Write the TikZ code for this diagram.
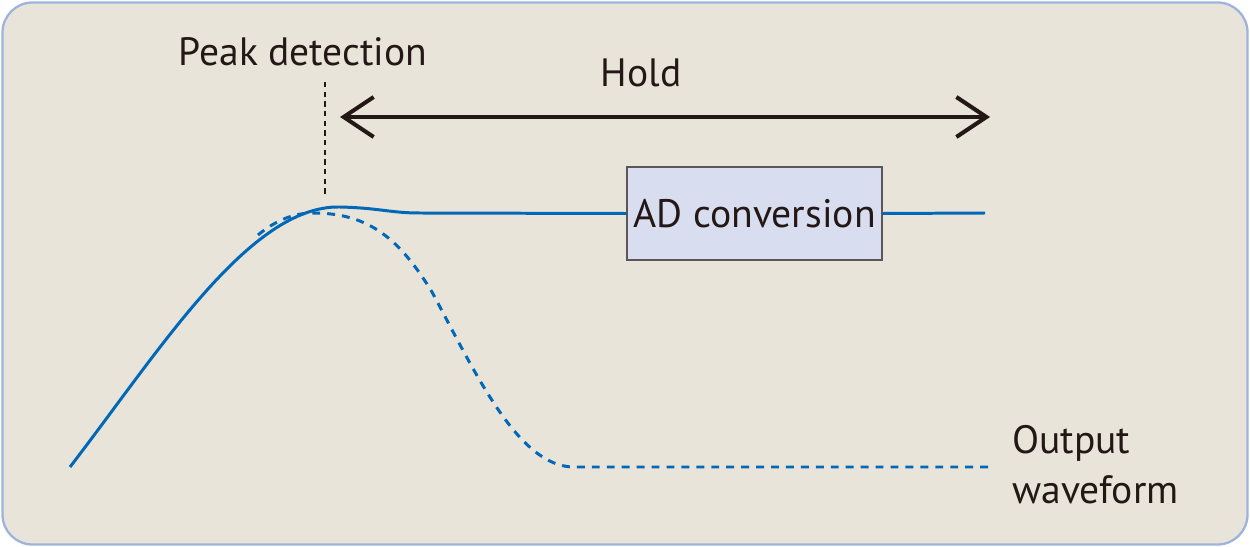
\documentclass[tikz,border=0pt]{standalone}
\usepackage{fontspec}
\setmainfont{PT Sans}
\usetikzlibrary{arrows.meta}
\definecolor{bgfill}{HTML}{E8E4DA}
\definecolor{bgdraw}{HTML}{9DB3DD}
\definecolor{wave}{HTML}{0068B7}
\definecolor{ink}{HTML}{231815}
\definecolor{boxfill}{HTML}{D8DEF0}
\definecolor{boxdraw}{HTML}{595757}
\tikzset{
  wavesolid/.style={draw=wave, line width=1.7pt},
  wavedash/.style={draw=wave, line width=1.7pt, dash pattern=on 4.5pt off 4pt},
  lbl/.style={text=ink, font=\fontsize{22.5}{28.5}\selectfont, inner sep=0pt},
  adbox/.style={draw=boxdraw, fill=boxfill, line width=0.8pt, minimum width=5.1cm, minimum height=1.86cm, inner sep=0pt, text=ink, font=\fontsize{22.6}{27}\selectfont},
  holdarrow/.style={draw=ink, line width=2.3pt, {Straight Barb[length=0.6cm,width=0.8cm]}-{Straight Barb[length=0.6cm,width=0.8cm]}},
}
\begin{document}
\begin{tikzpicture}[x=0.02cm,y=-0.02cm]
\useasboundingbox (0,0) rectangle (1250,547);
\draw[fill=bgfill, draw=bgdraw, line width=1.3pt, rounded corners=0.6cm] (2.5,2.5) rectangle (1247.5,544.5);
% labels
\node[lbl] (peak) at (303,52) {Peak detection};
\node[lbl] (hold) at (641,73) {Hold};
\node[lbl, anchor=north west, align=left] (out) at (1012,425) {Output\\waveform};
% peak marker
\coordinate (pk1) at (325,82);
\coordinate (pk2) at (325,196);
\draw[draw=ink, line width=0.8pt, dash pattern=on 3pt off 2.5pt] (pk1) -- (pk2);
% hold arrow
\coordinate (ha) at (340,117);
\coordinate (hb) at (990,117);
\draw[holdarrow] (ha) -- (hb);
% AD conversion box
\node[adbox] (ad) at (754.5,213.5) {AD conversion};
% solid waveform
\coordinate (s0) at (70,467);
\coordinate (s1) at (340,207);
\coordinate (s2) at (420,213);
\coordinate (s3) at (985,213);
\draw[wavesolid] (s0) .. controls (160,350) and (250,205) .. (s1)
  .. controls (380,208) and (390,213) .. (s2) -- (ad.west);
\draw[wavesolid] (ad.east) -- (s3);
% dashed waveform
\coordinate (d0) at (258,235);
\coordinate (d1) at (313,213);
\coordinate (d2) at (432,292);
\coordinate (d3) at (574,467);
\coordinate (d4) at (995,467);
\draw[wavedash] (d0) .. controls (275,221) and (293,213) .. (d1)
  .. controls (370,213) and (400,240) .. (d2)
  .. controls (475,372) and (518,467) .. (d3) -- (d4);
\end{tikzpicture}
\end{document}
